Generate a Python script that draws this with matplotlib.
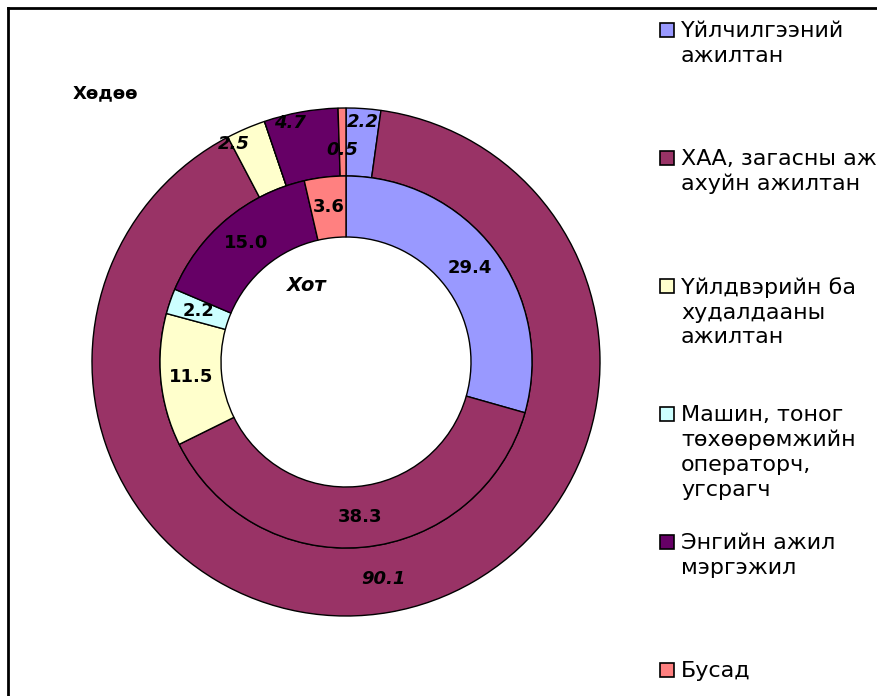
import numpy as np
import matplotlib.pyplot as plt
import matplotlib.patches as mpatches

plt.rcParams['font.family'] = ['DejaVu Sans']

categories = ['Үйлчилгээний\nажилтан',
              'ХАА, загасны аж\nахуйн ажилтан',
              'Үйлдвэрийн ба\nхудалдааны\nажилтан',
              'Машин, тоног\nтөхөөрөмжийн\nоператорч,\nугсрагч',
              'Энгийн ажил\nмэргэжил',
              'Бусад']
hot = [29.4, 38.3, 11.5, 2.2, 15.0, 3.6]      # inner ring (city)
hodoo = [2.2, 90.1, 2.5, 0.0, 4.7, 0.5]       # outer ring (rural)
colors = ['#9999FF', '#993366', '#FFFFCC', '#CCFFFF', '#660066', '#FF8080']

W, H = 878, 696
fig = plt.figure(figsize=(W / 100, H / 100), dpi=100)

# frame (only top and left visible in the crop)
fig.add_artist(plt.Line2D([8 / W, 1], [1 - 8 / H, 1 - 8 / H], color='black', lw=2))
fig.add_artist(plt.Line2D([8 / W, 8 / W], [0, 1 - 8 / H], color='black', lw=2))

cx, cy, R = 346, 362, 254
ax = fig.add_axes([(cx - R) / W, (H - cy - R) / H, 2 * R / W, 2 * R / H])

r_mid = 186 / R
r_hole = 125 / R
wp = dict(edgecolor='black', linewidth=1)
ax.pie(hodoo, radius=1.0, colors=colors, startangle=90, counterclock=False,
       wedgeprops=dict(width=1.0 - r_mid, **wp))
ax.pie(hot, radius=r_mid, colors=colors, startangle=90, counterclock=False,
       wedgeprops=dict(width=r_mid - r_hole, **wp))
ax.set_xlim(-1, 1)
ax.set_ylim(-1, 1)
ax.axis('off')


def mid_angles(vals):
    c = np.cumsum(vals)
    return (c - np.array(vals) / 2) / np.sum(vals) * 2 * np.pi


# inner labels
for v, a in zip(hot, mid_angles(hot)):
    r = (r_mid + r_hole) / 2
    ax.text(r * np.sin(a), r * np.cos(a), f'{v:.1f}', ha='center', va='center',
            fontsize=13, fontweight='bold')

# outer labels (small slices nudged like the original)
nudge = {0: (0.0, 0.08), 2: (-0.07, 0.1), 4: (-0.05, 0.1), 5: (0.0, -0.03)}
for i, (v, a) in enumerate(zip(hodoo, mid_angles(hodoo))):
    if v == 0:
        continue
    da, dr = nudge.get(i, (0.0, 0.0))
    r = (1.0 + r_mid) / 2 + dr
    a = a + da
    ax.text(r * np.sin(a), r * np.cos(a), f'{v:.1f}', ha='center', va='center',
            fontsize=13, fontweight='bold', fontstyle='italic')

fig.text(73 / W, 1 - 93 / H, 'Хөдөө', ha='left', va='center', fontsize=13, fontweight='bold')
fig.text(307 / W, 1 - 285 / H, 'Хот', ha='center', va='center', fontsize=14,
         fontweight='bold', fontstyle='italic')

# legend, cut off by the right edge like the original
for i, (lab, col) in enumerate(zip(categories, colors)):
    y = 30 + 128 * i
    fig.add_artist(mpatches.Rectangle((660 / W, 1 - (y + 7) / H), 14 / W, 14 / H,
                                      facecolor=col, edgecolor='black', lw=1.2))
    fig.text(681 / W, 1 - (y - 9) / H, lab, ha='left', va='top', fontsize=16,
             linespacing=1.3)

fig.savefig('out.png', dpi=100)
